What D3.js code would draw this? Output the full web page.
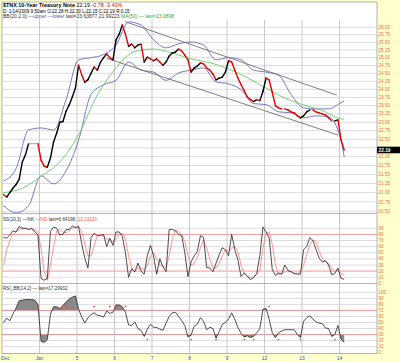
<!DOCTYPE html>
<html>
<head>
<meta charset="utf-8">
<script src="https://cdn.jsdelivr.net/npm/d3@7"></script>
<style>
  body { margin: 0; background: #ffffcc; }
  svg { display: block; font-family: "Liberation Sans", Arial, sans-serif; }
</style>
</head>
<body>
<svg id="chart" width="400" height="362"></svg>
<script>
// ---- data (12 slots per trading day) ----
var dayLabels = ["Dec", "Jan", "5", "6", "7", "8", "9", "12", "13", "14"];
var barsPerDay = 12;

var closes = [
  20.95, 20.88, 21.00, 21.12, 21.22, 21.37, 21.85, 22.05, 22.37, 22.37, 22.37, 22.37,
  21.90, 21.73, 21.70, 21.96, 22.42, 22.68, 23.00, 23.02, 23.33, 23.52, 23.76, 24.04,
  24.76, 24.45, 24.22, 24.30, 24.50, 24.70, 24.60, 24.85, 25.00, 25.12, 25.00, 24.93,
  25.58, 25.77, 26.08, 25.77, 25.37, 25.44, 25.32, 25.41, 25.44, 24.86, 25.02, 24.96,
  24.90, 24.96, 24.86, 24.76, 24.86, 25.05, 25.15, 25.18, 25.28, 25.22, 25.08, 24.93,
  24.54, 24.67, 24.73, 24.83, 24.80, 24.67, 24.60, 24.48, 24.29, 24.35, 24.38, 24.54,
  24.90, 24.86, 24.60, 24.35, 24.14, 23.96, 23.76, 23.68, 23.62, 23.68, 23.65, 23.93,
  24.35, 24.29, 23.90, 23.49, 23.43, 23.40, 23.40, 23.37, 23.31, 23.28, 23.19, 23.13,
  23.19, 23.31, 23.37, 23.37, 23.31, 23.28, 23.25, 23.22, 23.13, 23.04, 23.04, 23.07,
  22.48, 22.19
];

var bbSlots = [0, 4, 8, 12, 16, 20, 24, 28, 32, 36, 40, 44, 48, 52, 56, 60, 64, 68, 72, 76, 80, 84, 88, 92, 96, 100, 104, 108, 109];
var bbUpper = [21.32, 21.66, 22.77, 22.83, 22.77, 23.68, 24.93, 25.00, 25.10, 25.41, 26.18, 26.08, 25.58, 25.32,
               25.45, 25.51, 25.41, 24.93, 25.00, 24.93, 24.60, 24.54, 24.44, 23.84, 23.43, 23.40, 23.40, 23.59, 23.64];
var bbLower = [20.65, 20.46, 20.65, 21.46, 21.24, 21.60, 22.47, 23.84, 24.14, 24.28, 24.86, 24.60, 24.54, 24.28,
               24.51, 24.60, 24.67, 24.23, 24.17, 23.99, 23.56, 23.53, 23.31, 23.28, 23.13, 23.19, 23.16, 22.47, 21.99];

var maSlots = [0, 6, 12, 18, 24, 30, 36, 42, 48, 54, 60, 66, 72, 78, 84, 90, 96, 102, 108, 109];
var ma50 = [21.00, 21.12, 21.45, 21.85, 22.63, 23.82, 24.67, 25.20, 25.28, 25.15, 24.96, 24.84, 24.64, 24.36,
            24.04, 23.73, 23.52, 23.35, 23.10, 23.09];

// trend channel drawn on the chart: [slot, price] end points
var channelUpper = [[39.4, 26.19], [107.1, 23.82]];
var channelLower = [[33.5, 24.98], [107.6, 22.62]];

var priceTicks = [20.50, 20.75, 21.00, 21.25, 21.50, 21.75, 22.00, 22.25, 22.50, 22.75, 23.00, 23.25,
                  23.50, 23.75, 24.00, 24.25, 24.50, 24.75, 25.00, 25.25, 25.50, 25.75, 26.00];

var stochK = [
  75, 74, 79, 86, 84, 93, 90, 90, 88, 90, 84, 79,
  8, 5, 8, 85, 92, 90, 79, 80, 88, 88, 94, 91,
  93, 65, 41, 25, 75, 82, 78, 78, 80, 60, 74, 62,
  84, 84, 77, 50, 10, 24, 19, 33, 20, 15, 45, 62,
  45, 15, 40, 27, 19, 88, 88, 86, 80, 78, 50, 11,
  35, 45, 52, 78, 75, 26, 25, 19, 33, 47, 58, 55,
  45, 80, 55, 38, 11, 17, 12, 6, 9, 16, 45, 92,
  84, 74, 22, 13, 17, 15, 30, 21, 19, 16, 15, 15,
  55, 60, 75, 70, 55, 41, 35, 37, 30, 14, 16, 25,
  8, 6.64
];
var stochD = [
  30, 55, 70, 80, 84, 88, 90, 90, 89, 89, 87, 84,
  57, 20, 5, 30, 60, 85, 88, 84, 83, 86, 90, 92,
  93, 85, 65, 45, 45, 62, 78, 80, 78, 72, 70, 68,
  72, 80, 82, 72, 45, 25, 18, 25, 25, 22, 28, 45,
  50, 40, 30, 28, 25, 45, 72, 87, 85, 80, 68, 45,
  30, 32, 42, 58, 70, 58, 40, 25, 25, 33, 45, 55,
  52, 57, 60, 52, 30, 16, 11, 9, 11, 14, 22, 57,
  82, 84, 63, 30, 14, 16, 19, 19, 19, 16, 16, 19,
  30, 47, 63, 71, 68, 52, 41, 35, 33, 25, 19, 22,
  16, 13.33
];

var rsi = [
  50, 57, 53, 64, 74, 86, 87, 88, 88, 88, 87, 80,
  19, 17, 22, 64, 76, 76, 73, 78, 84, 89, 92, 94,
  72, 59, 49, 58, 63, 66, 62, 61, 59, 69, 65, 67,
  79, 79, 76, 67, 46, 45, 51, 40, 37, 27, 39, 47,
  42, 42, 39, 37, 49, 60, 66, 67, 60, 53, 45, 26,
  29, 44, 47, 58, 52, 38, 42, 40, 24, 35, 47, 50,
  56, 66, 55, 42, 32, 26, 28, 25, 27, 33, 40, 72,
  73, 55, 33, 25, 33, 36, 38, 38, 38, 38, 30, 25,
  52, 58, 61, 56, 51, 49, 48, 41, 40, 27, 30, 45,
  22, 17.3
];
var rsiSellSignals = [11, 19, 20, 29, 34, 36, 39, 85];
var rsiBuySignals = [14, 46, 60, 68, 77, 80, 88, 95, 106];

var stochTicks = [0, 10, 20, 30, 40, 50, 60, 70, 80, 90];
var rsiTicks = [0, 10, 20, 30, 40, 50, 60, 70, 80, 90, 100];

// ---- layout ----
var svg = d3.select("#chart");
var left = 2, right = 377;
var mainTop = 2, mainBottom = 213.5, stochBottom = 283.5, rsiBottom = 353.5;

var x = d3.scaleLinear().domain([0, dayLabels.length * barsPerDay]).range([left, right]);
var xc = function(i) { return x(i + 0.5); };

var yPrice = d3.scaleLog().domain([20.5, 26]).range([211.3, 27.3]);
var yStoch = d3.scaleLinear().domain([0, 100]).range([283.3, 222.2]);
var yRsi = d3.scaleLinear().domain([0, 100]).range([352.7, 292.3]);

var gridColor = "#dcdcdc";
var axisColor = "#e8704a";
var threshColor = "#f29a9a";

svg.append("rect").attr("width", 400).attr("height", 362).attr("fill", "#ffffcc");
svg.append("rect")
    .attr("x", left).attr("y", mainTop)
    .attr("width", right - left).attr("height", rsiBottom - mainTop)
    .attr("fill", "#fff");

var defs = svg.append("defs");
function addClip(id, y0, y1) {
    defs.append("clipPath").attr("id", id)
        .append("rect").attr("x", left).attr("y", y0).attr("width", right - left).attr("height", y1 - y0);
}
addClip("clipMain", mainTop, mainBottom);
addClip("clipStoch", mainBottom, stochBottom);
addClip("clipRsi", stochBottom, rsiBottom);
addClip("clipRsiHigh", stochBottom, yRsi(70));
addClip("clipRsiLow", yRsi(30), rsiBottom);

// horizontal grid
var grid = svg.append("g");
priceTicks.forEach(function(t) {
    grid.append("line").attr("x1", left).attr("x2", right)
        .attr("y1", yPrice(t)).attr("y2", yPrice(t)).attr("stroke", gridColor);
});
stochTicks.slice(1).forEach(function(t) {
    grid.append("line").attr("x1", left).attr("x2", right)
        .attr("y1", yStoch(t)).attr("y2", yStoch(t))
        .attr("stroke", (t === 20 || t === 80) ? threshColor : gridColor);
});
rsiTicks.slice(1).forEach(function(t) {
    grid.append("line").attr("x1", left).attr("x2", right)
        .attr("y1", yRsi(t)).attr("y2", yRsi(t))
        .attr("stroke", (t === 30 || t === 70) ? threshColor : gridColor);
});

// day separators
for (var d = 1; d < dayLabels.length; d++) {
    grid.append("line")
        .attr("x1", x(d * barsPerDay)).attr("x2", x(d * barsPerDay))
        .attr("y1", 20).attr("y2", rsiBottom)
        .attr("stroke", "#c8c8c8");
}

// ---- main panel ----
var main = svg.append("g").attr("clip-path", "url(#clipMain)");

var slotLine = function(slots, scale) {
    return d3.line()
        .x(function(d, i) { return xc(slots[i]); })
        .y(function(d) { return scale(d); })
        .curve(d3.curveMonotoneX);
};

main.append("path").datum(bbUpper)
    .attr("d", slotLine(bbSlots, yPrice))
    .attr("fill", "none").attr("stroke", "#6b6bbb").attr("stroke-width", 0.9);
main.append("path").datum(bbLower)
    .attr("d", slotLine(bbSlots, yPrice))
    .attr("fill", "none").attr("stroke", "#6b6bbb").attr("stroke-width", 0.9);
main.append("path").datum(ma50)
    .attr("d", slotLine(maSlots, yPrice))
    .attr("fill", "none").attr("stroke", "#66cc66").attr("stroke-width", 0.9);

[channelUpper, channelLower].forEach(function(c) {
    main.append("line")
        .attr("x1", x(c[0][0])).attr("y1", yPrice(c[0][1]))
        .attr("x2", x(c[1][0])).attr("y2", yPrice(c[1][1]))
        .attr("stroke", "#707070").attr("stroke-width", 0.9);
});

// price moves, coloured by direction
for (var i = 1; i < closes.length; i++) {
    var up = closes[i] > closes[i - 1];
    var down = closes[i] < closes[i - 1];
    main.append("line")
        .attr("x1", xc(i - 1)).attr("y1", yPrice(closes[i - 1]))
        .attr("x2", xc(i)).attr("y2", yPrice(closes[i]))
        .attr("stroke", up ? "#000" : (down ? "#e60000" : "#999"))
        .attr("stroke-width", (up || down) ? 1.4 : 0.8)
        .attr("stroke-linecap", "round");
}

// ---- stochastic panel ----
var stoch = svg.append("g").attr("clip-path", "url(#clipStoch)");
var idxLine = function(scale) {
    return d3.line().x(function(d, i) { return xc(i); }).y(function(d) { return scale(d); });
};
stoch.append("path").datum(stochD).attr("d", idxLine(yStoch))
    .attr("fill", "none").attr("stroke", "#ff7b7b").attr("stroke-width", 0.8);
stoch.append("path").datum(stochK).attr("d", idxLine(yStoch))
    .attr("fill", "none").attr("stroke", "#222").attr("stroke-width", 0.8);

// ---- RSI panel ----
var rsiG = svg.append("g").attr("clip-path", "url(#clipRsi)");
rsiG.append("path").datum(rsi)
    .attr("d", d3.area().x(function(d, i) { return xc(i); }).y0(yRsi(70)).y1(function(d) { return yRsi(d); }))
    .attr("fill", "#8a8a8a").attr("clip-path", "url(#clipRsiHigh)");
rsiG.append("path").datum(rsi)
    .attr("d", d3.area().x(function(d, i) { return xc(i); }).y0(yRsi(30)).y1(function(d) { return yRsi(d); }))
    .attr("fill", "#8a8a8a").attr("clip-path", "url(#clipRsiLow)");
rsiG.append("path").datum(rsi).attr("d", idxLine(yRsi))
    .attr("fill", "none").attr("stroke", "#222").attr("stroke-width", 0.8);

rsiSellSignals.forEach(function(s) {
    rsiG.append("circle").attr("cx", xc(s)).attr("cy", yRsi(70) - 4).attr("r", 0.9).attr("fill", "#ff4444");
});
rsiBuySignals.forEach(function(s) {
    rsiG.append("circle").attr("cx", xc(s)).attr("cy", yRsi(30) + 5).attr("r", 0.9).attr("fill", "#33bb33");
});

// panel borders
svg.append("rect")
    .attr("x", left).attr("y", mainTop)
    .attr("width", right - left).attr("height", rsiBottom - mainTop)
    .attr("fill", "none").attr("stroke", "#a0a0a0").attr("stroke-width", 0.8);
[mainBottom, stochBottom].forEach(function(yy) {
    svg.append("line").attr("x1", left).attr("x2", right).attr("y1", yy).attr("y2", yy)
        .attr("stroke", "#a0a0a0").attr("stroke-width", 0.8);
});

// ---- right axis labels ----
var last = closes[closes.length - 1];
var axis = svg.append("g").attr("font-size", 4.6).attr("fill", axisColor);
priceTicks.forEach(function(t) {
    // the last-price box hides the tick label underneath it
    if (Math.abs(yPrice(t) - yPrice(last)) < 6) return;
    axis.append("text").attr("x", 378.5).attr("y", yPrice(t) + 1.6).text(t.toFixed(2));
});
stochTicks.forEach(function(t) {
    axis.append("text").attr("x", 378.5).attr("y", yStoch(t) + 1.6).text(t);
});
rsiTicks.forEach(function(t) {
    axis.append("text").attr("x", 378.5).attr("y", yRsi(t) + 1.6).text(t);
});

// last price box
svg.append("rect").attr("x", 377).attr("y", yPrice(last) - 3.3).attr("width", 23).attr("height", 6.6).attr("fill", "#000");
svg.append("text").attr("x", 378.5).attr("y", yPrice(last) + 1.7)
    .attr("font-size", 4.8).attr("font-weight", "bold").attr("fill", "#fff").text(last.toFixed(2));

// ---- x axis labels ----
var xAxis = svg.append("g").attr("font-size", 4.8).attr("fill", "#2a4fd0");
dayLabels.forEach(function(lbl, k) {
    xAxis.append("text")
        .attr("x", k === 0 ? 1 : x(k * barsPerDay))
        .attr("y", 359.5)
        .attr("text-anchor", k === 0 ? "start" : "middle")
        .text(lbl);
});

// ---- titles / legends ----
var head = svg.append("g").attr("font-size", 5.4);
var t1 = head.append("text").attr("x", 3).attr("y", 7);
t1.append("tspan").attr("font-weight", "bold").text("$TNX 10-Year Treasury Note");
t1.append("tspan").text("  22.19  ");
t1.append("tspan").attr("fill", "#e00").text("-0.78  -3.40%");

head.append("text").attr("x", 3).attr("y", 12.9).attr("font-size", 4.6)
    .text("D: 1/14/2009  9:50am  O:22.28  H:22.30  L:22.15  C:22.19  R:0.15");

var t3 = head.append("text").attr("x", 3).attr("y", 18.2).attr("font-size", 5);
t3.append("tspan").attr("fill", "#333").text("BB(20,2.0) ");
t3.append("tspan").attr("fill", "#5555aa").text("\u2014upper \u2014lower ");
t3.append("tspan").attr("fill", "#333").text("last=23.63877,21.99223  ");
t3.append("tspan").attr("fill", "#33aa33").text("MA(50) \u2014 last=23.0898");

var t4 = svg.append("text").attr("x", 3).attr("y", 220.6).attr("font-size", 4.6);
t4.append("tspan").attr("fill", "#333").text("SS(10,3) \u2014%K ");
t4.append("tspan").attr("fill", "#ff5555").text("\u2014%D ");
t4.append("tspan").attr("fill", "#333").text("last=6.64198, ");
t4.append("tspan").attr("fill", "#ff5555").text("13.33333");

svg.append("text").attr("x", 3).attr("y", 289.6).attr("font-size", 4.6).attr("fill", "#333")
    .text("RSI_BB(14,2) \u2014 last=17.29932");
</script>
</body>
</html>
